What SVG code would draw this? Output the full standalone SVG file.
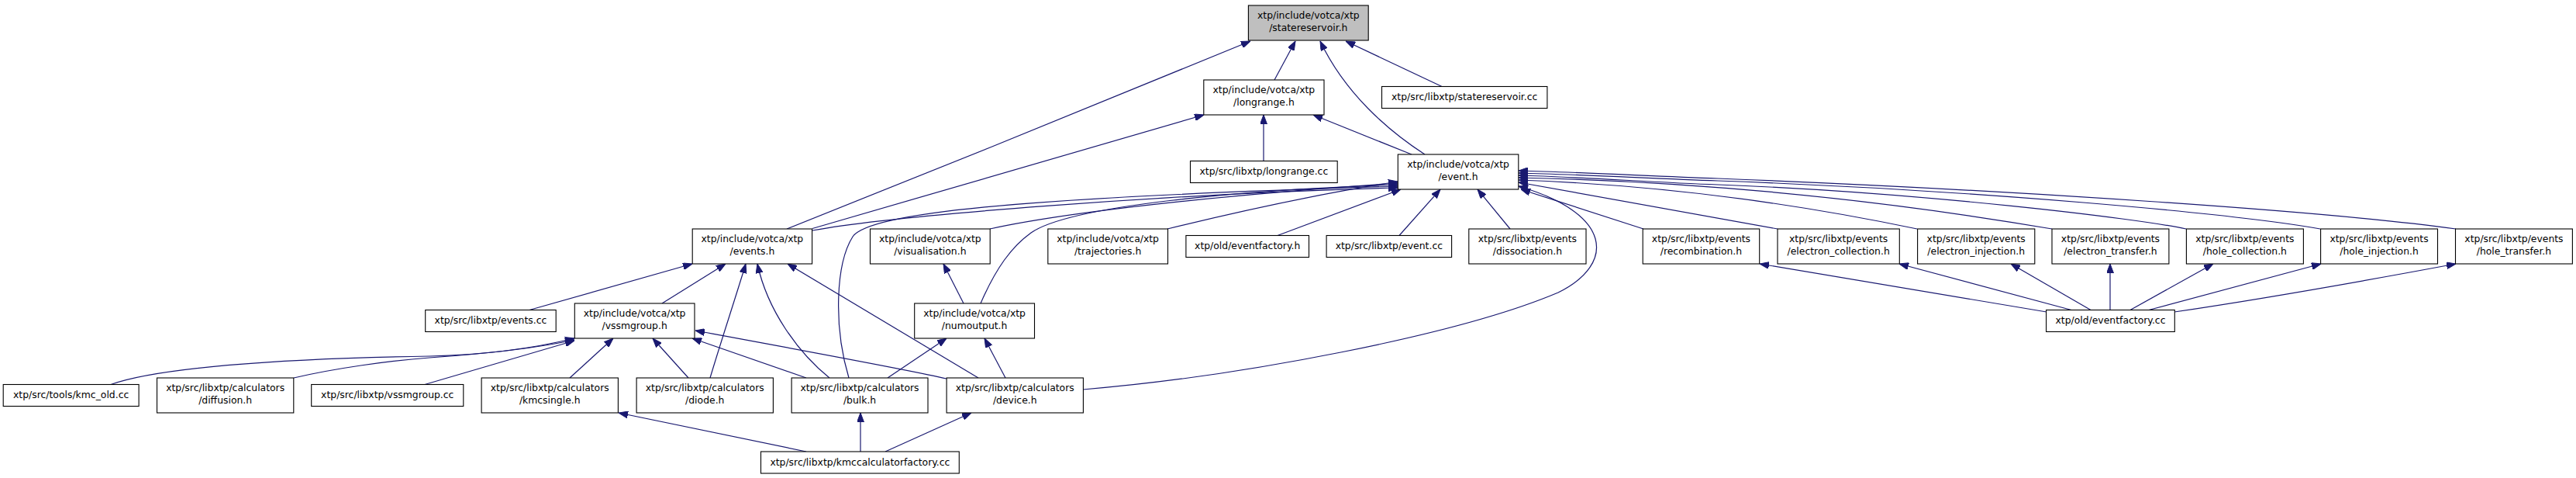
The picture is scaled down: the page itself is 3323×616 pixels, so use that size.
<svg xmlns="http://www.w3.org/2000/svg" width="3323" height="616" viewBox="0 0 3323 616">
<style>
.n rect{fill:#fff;stroke:#000;stroke-width:1.1}
.n.root rect{fill:#bfbfbf}
.n text{font-family:"DejaVu Sans",sans-serif;font-size:12.4px;text-anchor:middle;fill:#000}
.e path{fill:none;stroke:#191970;stroke-width:1.2;marker-end:url(#ah)}
</style>
<defs>
<marker id="ah" viewBox="0 0 12 9" refX="12" refY="4.5" markerWidth="12" markerHeight="9" markerUnits="userSpaceOnUse" orient="auto">
<path d="M0,0 L12,4.5 L0,9 z" fill="#191970" stroke="#191970" stroke-width="1"/>
</marker>
</defs>
<rect width="3323" height="616" fill="#fff"/>
<g id="edges" class="e">
<path d="M1644,103 L1671,53"/>
<path d="M1015,295 C1200,222 1450,120 1613,53"/>
<path d="M1838,199 C1790,168 1735,120 1703,53"/>
<path d="M1860,111.5 L1736,53"/>
<path d="M1630,207.5 L1630,148"/>
<path d="M1821,199 L1694,148"/>
<path d="M1048,294.5 L1553,148"/>
<path d="M1048,297 C1150,278 1500,250 1803,242"/>
<path d="M1095,487 C1075,420 1078,340 1100,305 C1120,275 1300,255 1803,240"/>
<path d="M1265,391 C1285,345 1305,318 1330,300 C1380,265 1600,245 1803,238"/>
<path d="M1277,295 C1400,268 1650,246 1803,236"/>
<path d="M1506,295 C1600,272 1700,250 1803,234"/>
<path d="M1648,303.5 L1807,244"/>
<path d="M1805,303.5 L1858,244"/>
<path d="M1948,295 L1906,244"/>
<path d="M2120,295 L1962,244"/>
<path d="M2293,295 L1959,235"/>
<path d="M2473,295 Q2215,241 1959,232"/>
<path d="M2647,295 Q2300,236 1959,229"/>
<path d="M2820,295 C2760,282 2480,248 2216,238 C2130,235 2040,228 1959,226"/>
<path d="M2993,295 C2880,275 2550,245 2216,233 C2130,230 2040,225 1959,223"/>
<path d="M3168,295 C3000,272 2600,245 2216,230 C2130,227 2040,222 1959,220"/>
<path d="M1397,502 C1600,485 1880,432 2010,377 C2085,340 2080,275 1959,240"/>
<path d="M143,495.5 C200,475 350,462 554,459 C640,457 700,446 741,436"/>
<path d="M379,487 C430,475 500,465 554,461 C640,455 700,447 741,438"/>
<path d="M548,495.5 L741,439"/>
<path d="M735,487 L791,436"/>
<path d="M888,487 L842,436"/>
<path d="M1040,487 L893,436"/>
<path d="M1221,488 C1180,478 1000,445 897,426"/>
<path d="M683,399.5 L893,340"/>
<path d="M854,391 L936,340"/>
<path d="M916,487 C930,440 950,380 962,340"/>
<path d="M1070,487 C1030,455 990,400 977,340"/>
<path d="M1262,487 L1016,340"/>
<path d="M1145,487 L1221,436"/>
<path d="M1297,487 L1270,436"/>
<path d="M1243,391 L1217,340"/>
<path d="M1040,582 L798,532"/>
<path d="M1110,582 L1110,532"/>
<path d="M1142,582 L1253,532"/>
<path d="M2640,402 L2270,340"/>
<path d="M2672,399.5 L2450,340"/>
<path d="M2697,399.5 L2594,340"/>
<path d="M2722,399.5 L2722,340"/>
<path d="M2748,399.5 L2855,340"/>
<path d="M2772,399.5 L2994,340"/>
<path d="M2805,402 C2900,388 3050,362 3168,340"/>
</g>
<g id="root" class="n root"><rect x="1610.4" y="7" width="154.8" height="45"/><text x="1687.8" y="23.5">xtp/include/votca/xtp</text><text x="1687.8" y="40">/statereservoir.h</text></g>
<g id="longrange_h" class="n"><rect x="1552.8" y="103" width="155.2" height="45"/><text x="1630.4" y="119.5">xtp/include/votca/xtp</text><text x="1630.4" y="136">/longrange.h</text></g>
<g id="statereservoir_cc" class="n"><rect x="1782.5" y="111.5" width="213.4" height="28"/><text x="1889.2" y="129">xtp/src/libxtp/statereservoir.cc</text></g>
<g id="longrange_cc" class="n"><rect x="1535.5" y="207.5" width="189.7" height="28"/><text x="1630.35" y="225">xtp/src/libxtp/longrange.cc</text></g>
<g id="event_h" class="n"><rect x="1803.3" y="199" width="155.5" height="45"/><text x="1881.05" y="215.5">xtp/include/votca/xtp</text><text x="1881.05" y="232">/event.h</text></g>
<g id="events_h" class="n"><rect x="893.2" y="295" width="154.4" height="45"/><text x="970.4" y="311.5">xtp/include/votca/xtp</text><text x="970.4" y="328">/events.h</text></g>
<g id="visualisation_h" class="n"><rect x="1122.5" y="295" width="154.7" height="45"/><text x="1199.85" y="311.5">xtp/include/votca/xtp</text><text x="1199.85" y="328">/visualisation.h</text></g>
<g id="trajectories_h" class="n"><rect x="1351.8" y="295" width="154.7" height="45"/><text x="1429.15" y="311.5">xtp/include/votca/xtp</text><text x="1429.15" y="328">/trajectories.h</text></g>
<g id="eventfactory_h" class="n"><rect x="1529.9" y="303.5" width="158.6" height="28"/><text x="1609.2" y="321">xtp/old/eventfactory.h</text></g>
<g id="event_cc" class="n"><rect x="1711.1" y="303.5" width="161.5" height="28"/><text x="1791.85" y="321">xtp/src/libxtp/event.cc</text></g>
<g id="dissociation_h" class="n"><rect x="1894.8" y="295" width="151.2" height="45"/><text x="1970.4" y="311.5">xtp/src/libxtp/events</text><text x="1970.4" y="328">/dissociation.h</text></g>
<g id="recombination_h" class="n"><rect x="2119.2" y="295" width="150.5" height="45"/><text x="2194.45" y="311.5">xtp/src/libxtp/events</text><text x="2194.45" y="328">/recombination.h</text></g>
<g id="electron_collection_h" class="n"><rect x="2293" y="295" width="157.3" height="45"/><text x="2371.65" y="311.5">xtp/src/libxtp/events</text><text x="2371.65" y="328">/electron_collection.h</text></g>
<g id="electron_injection_h" class="n"><rect x="2473.6" y="295" width="151.2" height="45"/><text x="2549.2" y="311.5">xtp/src/libxtp/events</text><text x="2549.2" y="328">/electron_injection.h</text></g>
<g id="electron_transfer_h" class="n"><rect x="2647" y="295" width="150.9" height="45"/><text x="2722.45" y="311.5">xtp/src/libxtp/events</text><text x="2722.45" y="328">/electron_transfer.h</text></g>
<g id="hole_collection_h" class="n"><rect x="2820.4" y="295" width="151" height="45"/><text x="2895.9" y="311.5">xtp/src/libxtp/events</text><text x="2895.9" y="328">/hole_collection.h</text></g>
<g id="hole_injection_h" class="n"><rect x="2993.6" y="295" width="150.9" height="45"/><text x="3069.05" y="311.5">xtp/src/libxtp/events</text><text x="3069.05" y="328">/hole_injection.h</text></g>
<g id="hole_transfer_h" class="n"><rect x="3167.5" y="295" width="150.9" height="45"/><text x="3242.95" y="311.5">xtp/src/libxtp/events</text><text x="3242.95" y="328">/hole_transfer.h</text></g>
<g id="events_cc" class="n"><rect x="548.7" y="399.5" width="168.5" height="28"/><text x="632.95" y="417">xtp/src/libxtp/events.cc</text></g>
<g id="vssmgroup_h" class="n"><rect x="741.3" y="391" width="154.7" height="45"/><text x="818.65" y="407.5">xtp/include/votca/xtp</text><text x="818.65" y="424">/vssmgroup.h</text></g>
<g id="numoutput_h" class="n"><rect x="1179.7" y="391" width="154.8" height="45"/><text x="1257.1" y="407.5">xtp/include/votca/xtp</text><text x="1257.1" y="424">/numoutput.h</text></g>
<g id="eventfactory_cc" class="n"><rect x="2639.6" y="399.5" width="165.7" height="28"/><text x="2722.45" y="417">xtp/old/eventfactory.cc</text></g>
<g id="kmc_old_cc" class="n"><rect x="4.2" y="495.5" width="174.9" height="28"/><text x="91.65" y="513">xtp/src/tools/kmc_old.cc</text></g>
<g id="diffusion_h" class="n"><rect x="202.5" y="487" width="176.3" height="45"/><text x="290.65" y="503.5">xtp/src/libxtp/calculators</text><text x="290.65" y="520">/diffusion.h</text></g>
<g id="vssmgroup_cc" class="n"><rect x="401.7" y="495.5" width="196.1" height="28"/><text x="499.75" y="513">xtp/src/libxtp/vssmgroup.cc</text></g>
<g id="kmcsingle_h" class="n"><rect x="621.1" y="487" width="176.3" height="45"/><text x="709.25" y="503.5">xtp/src/libxtp/calculators</text><text x="709.25" y="520">/kmcsingle.h</text></g>
<g id="diode_h" class="n"><rect x="821.1" y="487" width="176.3" height="45"/><text x="909.25" y="503.5">xtp/src/libxtp/calculators</text><text x="909.25" y="520">/diode.h</text></g>
<g id="bulk_h" class="n"><rect x="1021.1" y="487" width="175.9" height="45"/><text x="1109.05" y="503.5">xtp/src/libxtp/calculators</text><text x="1109.05" y="520">/bulk.h</text></g>
<g id="device_h" class="n"><rect x="1221.1" y="487" width="176.3" height="45"/><text x="1309.25" y="503.5">xtp/src/libxtp/calculators</text><text x="1309.25" y="520">/device.h</text></g>
<g id="kmccalculatorfactory_cc" class="n"><rect x="981.5" y="582" width="255.8" height="28"/><text x="1109.4" y="599.5">xtp/src/libxtp/kmccalculatorfactory.cc</text></g>
</svg>
